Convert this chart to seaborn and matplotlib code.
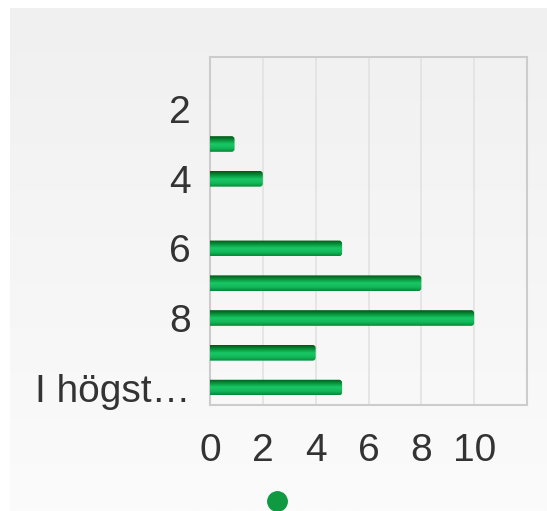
import matplotlib
matplotlib.use("Agg")
import matplotlib.pyplot as plt
import seaborn as sns
import numpy as np
import pandas as pd
from matplotlib.lines import Line2D
from matplotlib.patches import FancyBboxPatch
from matplotlib.colors import LinearSegmentedColormap

categories = ["1", "2", "3", "4", "5", "6", "7", "8", "9", "I högst…"]
values = [0, 0, 0.93, 2, 0, 5, 8, 10, 4, 5]
tick_labels = ["", "2", "", "4", "", "6", "", "8", "", "I högst…"]
x_ticks = [0, 2, 4, 6, 8, 10]

sns.set_theme(style="white")
plt.rcParams['font.family'] = ['Liberation Sans', 'DejaVu Sans']

W, H = 547, 511
fig = plt.figure(figsize=(W / 100, H / 100), dpi=100)
fig.patch.set_facecolor("white")

# background gradient panel
bg = fig.add_axes([10 / W, 0, 1 - 10 / W, 1 - 8 / H], zorder=-10)
grad = np.linspace(0, 1, 256).reshape(-1, 1)
bgcmap = LinearSegmentedColormap.from_list("bg", ["#eff0ef", "#fbfbfb"])
bg.imshow(grad, aspect="auto", cmap=bgcmap, extent=[0, 1, 0, 1])
bg.set_axis_off()

ax = fig.add_axes([210 / W, 1 - 405 / H, (527 - 210) / W, (405 - 57) / H])
ax.patch.set_alpha(0)

df = pd.DataFrame({"cat": categories, "val": values})
sns.barplot(data=df, x="val", y="cat", orient="h", color="#10a045", width=0.45, ax=ax, zorder=3)

ax.set_xlim(0, 12)
ax.set_ylim(len(categories) - 0.5, -0.5)

barcmap = LinearSegmentedColormap.from_list(
    "bar", ["#005514", "#07903a", "#18c865", "#14b85a", "#008a35"])
px_x = 12 / (527 - 210)
px_y = 10 / (405 - 57)
for p in list(ax.patches):
    w = p.get_width()
    p.set_facecolor("none")
    p.set_edgecolor("none")
    if w <= 0:
        p.set_visible(False)
        continue
    x0, y0 = p.get_x(), p.get_y()
    h = p.get_height()
    clip = FancyBboxPatch((x0 - 0.3, y0), w + 0.3, h,
                          boxstyle=f"round,pad=0,rounding_size={3 * px_x}",
                          mutation_aspect=px_y / px_x,
                          transform=ax.transData, facecolor="none",
                          edgecolor="none")
    ax.add_patch(clip)
    im = ax.imshow(grad, aspect="auto", cmap=barcmap,
                   extent=[x0, x0 + w, y0 + h, y0], zorder=4, interpolation="bilinear")
    im.set_clip_path(clip)

ax.set_xlim(0, 12)
ax.set_ylim(len(categories) - 0.5, -0.5)
ax.set_xticks(x_ticks)
ax.set_xticklabels([str(t) for t in x_ticks])
ax.set_yticks(range(len(categories)))
ax.set_yticklabels(tick_labels)
for xv in range(2, 12, 2):
    ax.axvline(xv, color="#e2e2e2", lw=1.2, zorder=1)
ax.tick_params(axis="x", length=0, pad=20, labelsize=28, labelcolor="#333333")
ax.tick_params(axis="y", length=0, pad=14, labelsize=28, labelcolor="#333333")
ax.set_xlabel("")
ax.set_ylabel("")
for s in ax.spines.values():
    s.set_visible(True)
    s.set_color("#cccccc")
    s.set_linewidth(1.5)

handle = Line2D([], [], marker="o", linestyle="none", markersize=14,
                markerfacecolor="#0f9a42", markeredgecolor="#0f9a42")
fig.legend(handles=[handle], labels=[""], loc="center",
           bbox_to_anchor=(277 / W, 1 - 502 / H), frameon=False,
           handlelength=0.8, handletextpad=0, borderpad=0)

fig.savefig("out.png", dpi=100)
